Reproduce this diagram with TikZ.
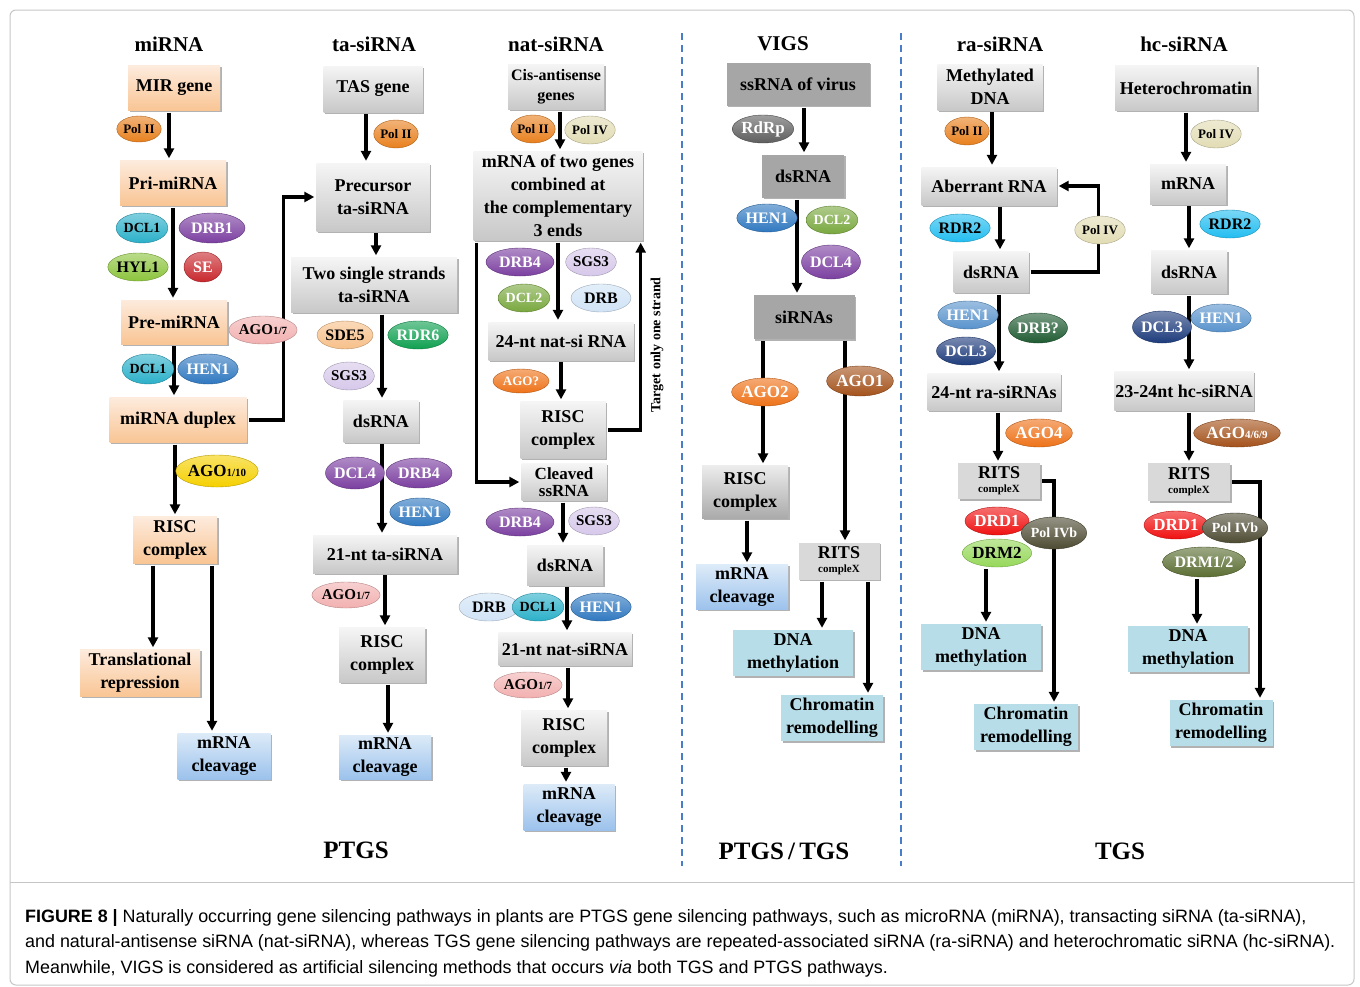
\documentclass[tikz,border=0pt]{standalone}
\usepackage{fontspec}
\setmainfont{Liberation Serif}
\newfontfamily\capfont{Liberation Sans}
\usetikzlibrary{shapes.geometric,arrows.meta,shadows}

\definecolor{peachtop}{HTML}{FDEBDD}
\definecolor{peachbot}{HTML}{F9C594}
\definecolor{greytop}{HTML}{F5F5F5}
\definecolor{greybot}{HTML}{C8C8C8}
\definecolor{bluetop}{HTML}{DDEBF8}
\definecolor{bluebot}{HTML}{9CC2EC}
\definecolor{cyanbox}{HTML}{B7DEE8}
\definecolor{virbox}{HTML}{A6A6A6}
\definecolor{ritsbox}{HTML}{D9D9D9}
\definecolor{dashblue}{HTML}{4A7CC8}
\definecolor{polor}{HTML}{E8801E}
\definecolor{dclcy}{HTML}{2BB0C9}
\definecolor{purp}{HTML}{7B3FA0}
\definecolor{hylg}{HTML}{8CC43C}
\definecolor{sered}{HTML}{C8282D}
\definecolor{agopk}{HTML}{F2B0B0}
\definecolor{henbl}{HTML}{2F78C0}
\definecolor{agoy}{HTML}{F5D000}
\definecolor{sdepk}{HTML}{F7C08A}
\definecolor{rdrg}{HTML}{0FA050}
\definecolor{sgsl}{HTML}{D6C8EA}
\definecolor{agoor}{HTML}{EE7218}
\definecolor{dclg}{HTML}{79A83E}
\definecolor{drbl}{HTML}{D0E3F6}
\definecolor{polfour}{HTML}{E2DCB4}
\definecolor{rdrpg}{HTML}{5E5E5E}
\definecolor{agobr}{HTML}{A4521B}
\definecolor{rdrcy}{HTML}{22BDF0}
\definecolor{drbdg}{HTML}{1F5B32}
\definecolor{navy}{HTML}{1E3C7C}
\definecolor{drdr}{HTML}{F01010}
\definecolor{drmg}{HTML}{96D85A}
\definecolor{polvb}{HTML}{4E4B33}
\definecolor{drmol}{HTML}{5B6E32}

\newcommand\stepdown[3]{\draw[arr] ([xshift=#3]#1.south) -- ([xshift=#3]#1.south |- #2.north);}
\newcommand\agosub[1]{{\fontsize{11}{11}\selectfont #1}}

\tikzset{
  box/.style={rectangle, inner sep=1pt, align=center, font=\fontsize{18}{23}\selectfont\bfseries,
    drop shadow={shadow xshift=1.5pt, shadow yshift=-1.5pt, opacity=0.3, fill=black}},
  orbox/.style={box, top color=peachtop, bottom color=peachbot},
  gbox/.style={box, top color=greytop, bottom color=greybot},
  vbox/.style={box, fill=virbox},
  rbox/.style={box, fill=ritsbox},
  bbox/.style={box, top color=bluetop, bottom color=bluebot},
  cbox/.style={box, fill=cyanbox},
  sz/.style 2 args={minimum width=#1, minimum height=#2},
  enz/.style={ellipse, inner sep=0pt, top color=#1!60!white, bottom color=#1, draw=#1!75!black,
    font=\fontsize{16}{16}\selectfont\bfseries},
  lt/.style={text=white},
  sm/.style={font=\fontsize{13}{13}\selectfont\bfseries},
  arr/.style={line width=3.2pt, -{Triangle[length=10pt,width=10pt]}, shorten <=2pt, shorten >=2pt},
  head/.style={font=\fontsize{21}{21}\selectfont\bfseries},
  foot/.style={font=\fontsize{25}{25}\selectfont\bfseries},
  rits/.style={rbox, font=\fontsize{18}{14}\selectfont\bfseries},
}

\begin{document}
\begin{tikzpicture}[x=1pt, y=-1pt]
\useasboundingbox (0,0) rectangle (1360,986);
\draw[gray!45, line width=1pt, rounded corners=6pt] (10,10) rectangle (1354,985);
\draw[gray!45, line width=1pt] (10,882) -- (1354,882);
\draw[dashblue, line width=2.2pt, dash pattern=on 7pt off 5pt] (682,33) -- (682,866);
\draw[dashblue, line width=2.2pt, dash pattern=on 7pt off 5pt] (901,33) -- (901,866);

% headings
\node[head] (h1) at (169,44) {miRNA};
\node[head] (h2) at (374,44) {ta-siRNA};
\node[head] (h3) at (556,44) {nat-siRNA};
\node[head] (h4) at (783,44) {VIGS};
\node[head] (h5) at (1000,44) {ra-siRNA};
\node[head] (h6) at (1184,44) {hc-siRNA};
\node[foot] (ptgs) at (356,850) {PTGS};
\node[foot] (both) at (784,851) {PTGS\,/\,TGS};
\node[foot] (tgs) at (1120,851) {TGS};

% miRNA
\node[orbox, sz={92}{45}] (mir) at (174,88) {MIR gene};
\node[orbox, sz={106}{45}] (pri) at (173,183) {Pri-miRNA};
\node[orbox, sz={106}{44}] (pre) at (174,322) {Pre-miRNA};
\node[orbox, sz={137}{45}] (dup) at (178,420) {miRNA duplex};
\node[orbox, sz={84}{47}] (risc1) at (175,540) {RISC\\complex};
\node[orbox, sz={120}{47}] (trans) at (140,673) {Translational\\repression};
\node[bbox, sz={93}{46}] (cleav1) at (224,756) {mRNA\\cleavage};

% ta-siRNA
\node[gbox, sz={99}{46}] (tas) at (373,89) {TAS gene};
\node[gbox, sz={113}{68}] (prec) at (373,197) {Precursor\\ta-siRNA};
\node[gbox, sz={166}{55}] (two) at (374,285) {Two single strands\\ta-siRNA};
\node[gbox, sz={75}{42}] (ds1) at (381,421) {dsRNA};
\node[gbox, sz={144}{38}] (nt21a) at (385,554) {21-nt ta-siRNA};
\node[gbox, sz={86}{55}] (risc2) at (382,655) {RISC\\complex};
\node[bbox, sz={92}{44}] (cleav2) at (385,757) {mRNA\\cleavage};

% nat-siRNA
\node[gbox, sz={96}{45}, font=\fontsize{16}{20}\selectfont\bfseries] (cis) at (556,87) {Cis-antisense\\genes};
\node[gbox, sz={169}{89}] (mg) at (558,196) {mRNA of two genes\\combined at\\the complementary\\3 ends};
\node[gbox, sz={145}{38}] (nat24) at (561,341) {24-nt nat-si RNA};
\node[gbox, sz={85}{57}] (risc3) at (563,430) {RISC\\complex};
\node[gbox, sz={85}{37}, font=\fontsize{17}{17}\selectfont\bfseries] (cl) at (564,482) {Cleaved\\ssRNA};
\node[gbox, sz={76}{40}] (ds2) at (565,565) {dsRNA};
\node[gbox, sz={133}{33}] (nt21b) at (565,649) {21-nt nat-siRNA};
\node[gbox, sz={86}{55}] (risc5) at (564,738) {RISC\\complex};
\node[bbox, sz={91}{46}] (cleav3) at (569,807) {mRNA\\cleavage};
\node[rotate=90, font=\fontsize{14}{14}\selectfont\bfseries] (tlab) at (657,345) {Target only one strand};

% VIGS
\node[vbox, sz={143}{43}] (ssv) at (798,84) {ssRNA of virus};
\node[vbox, sz={82}{43}] (ds3) at (803,176) {dsRNA};
\node[vbox, sz={101}{44}] (sir) at (804,317) {siRNAs};
\node[box, sz={86}{53}, top color=greytop!80!greybot, bottom color=greybot!85!black] (risc4) at (745,492) {RISC\\complex};
\node[bbox, sz={92}{45}] (cleav4) at (742,587) {mRNA\\cleavage};
\node[rits, sz={81}{37}] (rits1) at (839,561) {RITS\\{\fontsize{11}{11}\selectfont compleX}};
\node[cbox, sz={120}{46}] (dnam1) at (793,653) {DNA\\methylation};
\node[cbox, sz={102}{46}] (chr1) at (832,718) {Chromatin\\remodelling};

% ra-siRNA
\node[gbox, sz={105}{46}] (md) at (990,87) {Methylated\\DNA};
\node[gbox, sz={135}{38}] (ab) at (989,186) {Aberrant RNA};
\node[gbox, sz={75}{41}] (ds4) at (991,272) {dsRNA};
\node[gbox, sz={133}{37}] (ra24) at (994,392) {24-nt ra-siRNAs};
\node[rits, sz={82}{36}] (rits2) at (999,481) {RITS\\{\fontsize{11}{11}\selectfont compleX}};
\node[cbox, sz={120}{46}] (dnam2) at (981,647) {DNA\\methylation};
\node[cbox, sz={104}{46}] (chr2) at (1026,727) {Chromatin\\remodelling};

% hc-siRNA
\node[gbox, sz={142}{45}] (het) at (1186,88) {Heterochromatin};
\node[gbox, sz={76}{40}] (mr) at (1188,184) {mRNA};
\node[gbox, sz={76}{43}] (ds5) at (1189,272) {dsRNA};
\node[gbox, sz={139}{39}] (hc23) at (1184,391) {23-24nt hc-siRNA};
\node[rits, sz={82}{38}] (rits3) at (1189,482) {RITS\\{\fontsize{11}{11}\selectfont compleX}};
\node[cbox, sz={120}{46}] (dnam3) at (1188,649) {DNA\\methylation};
\node[cbox, sz={103}{46}] (chr3) at (1221,723) {Chromatin\\remodelling};

% connectors
\stepdown{mir}{pri}{-5pt}
\stepdown{pri}{pre}{0pt}
\stepdown{pre}{dup}{0pt}
\stepdown{dup}{risc1}{-3pt}
\stepdown{risc1}{trans}{-22pt}
\stepdown{risc1}{cleav1}{37pt}
\draw[arr] (dup.east) -- ++(37,0) |- (prec.west);
\stepdown{tas}{prec}{-7pt}
\stepdown{prec}{two}{3pt}
\stepdown{two}{ds1}{8pt}
\stepdown{ds1}{nt21a}{1pt}
\stepdown{nt21a}{risc2}{0pt}
\stepdown{risc2}{cleav2}{6pt}
\stepdown{cis}{mg}{4pt}
\stepdown{mg}{nat24}{0pt}
\stepdown{nat24}{risc3}{0pt}
\stepdown{cl}{ds2}{-1pt}
\stepdown{ds2}{nt21b}{2pt}
\stepdown{nt21b}{risc5}{3pt}
\stepdown{risc5}{cleav3}{2pt}
\draw[arr] ([xshift=3pt]mg.south west) |- (cl.west);
\draw[arr] (risc3.east) -| ([xshift=-2pt]mg.south east);
\stepdown{ssv}{ds3}{6pt}
\stepdown{ds3}{sir}{-6pt}
\stepdown{sir}{risc4}{-41pt}
\stepdown{sir}{rits1}{41pt}
\stepdown{risc4}{cleav4}{2pt}
\stepdown{rits1}{dnam1}{-17pt}
\stepdown{rits1}{chr1}{29pt}
\stepdown{md}{ab}{2pt}
\stepdown{ab}{ds4}{11pt}
\stepdown{ds4}{ra24}{8pt}
\stepdown{ra24}{rits2}{4pt}
\draw[arr] (ds4.east) -- ++(70,0) |- (ab.east);
\draw[arr] (rits2.east) -| ([xshift=28pt]chr2.north);
\stepdown{het}{mr}{0pt}
\stepdown{mr}{ds5}{1pt}
\stepdown{ds5}{hc23}{0pt}
\stepdown{hc23}{rits3}{5pt}
\draw[arr] (rits3.east) -| ([xshift=39pt]chr3.north);

% enzymes
\node[enz=polor, sm, sz={38}{26}] (pol1) at (139,129) {Pol II};
\node[enz=dclcy, sz={38}{30}, font=\fontsize{14}{14}\selectfont\bfseries] (dcl1a) at (142,228) {DCL1};
\node[enz=purp, lt, sz={66}{30}] (drb1) at (212,228) {DRB1};
\node[enz=hylg, sz={52}{28}] (hyl1) at (138,267) {HYL1};
\node[enz=sered, lt, sz={38}{30}] (se) at (203,267) {SE};
\node[enz=agopk, sz={58}{28}, font=\fontsize{15}{15}\selectfont\bfseries] (ago17a) at (263,330) {AGO\agosub{1/7}};
\node[enz=dclcy, sz={38}{30}, font=\fontsize{14}{14}\selectfont\bfseries] (dcl1b) at (148,369) {DCL1};
\node[enz=henbl, lt, sz={55}{30}] (hen1a) at (208,369) {HEN1};
\node[enz=agoy, sz={74}{32}, font=\fontsize{17}{17}\selectfont\bfseries] (ago110) at (217,471) {AGO\agosub{1/10}};

\node[enz=polor, sm, sz={38}{28}] (pol2) at (396,134) {Pol II};
\node[enz=sdepk, sz={56}{28}] (sde5) at (345,335) {SDE5};
\node[enz=rdrg, lt, sz={58}{28}] (rdr6) at (418,335) {RDR6};
\node[enz=sgsl, sz={44}{28}, font=\fontsize{15}{15}\selectfont\bfseries] (sgs3a) at (349,376) {SGS3};
\node[enz=purp, lt, sz={44}{32}] (dcl4a) at (355,473) {DCL4};
\node[enz=purp, lt, sz={66}{30}] (drb4a) at (419,473) {DRB4};
\node[enz=henbl, lt, sz={52}{28}] (hen1b) at (420,512) {HEN1};
\node[enz=agopk, sz={58}{26}, font=\fontsize{15}{15}\selectfont\bfseries] (ago17b) at (346,595) {AGO\agosub{1/7}};

\node[enz=polor, sm, sz={36}{28}] (pol3) at (533,129) {Pol II};
\node[enz=polfour, sm, sz={42}{28}] (pol4a) at (590,130) {Pol IV};
\node[enz=purp, lt, sz={68}{28}] (drb4b) at (520,262) {DRB4};
\node[enz=sgsl, sz={44}{28}, font=\fontsize{15}{15}\selectfont\bfseries] (sgs3b) at (591,262) {SGS3};
\node[enz=dclg, lt, sz={46}{28}, font=\fontsize{14}{14}\selectfont\bfseries] (dcl2a) at (524,298) {DCL2};
\node[enz=drbl, sz={60}{28}] (drba) at (601,298) {DRB};
\node[enz=agoor, lt, sz={56}{24}, sm] (agoq) at (521,381) {AGO?};
\node[enz=purp, lt, sz={68}{28}] (drb4c) at (520,522) {DRB4};
\node[enz=sgsl, sz={42}{28}, font=\fontsize{15}{15}\selectfont\bfseries] (sgs3c) at (594,521) {SGS3};
\node[enz=drbl, sz={60}{28}] (drbb) at (489,607) {DRB};
\node[enz=dclcy, sz={38}{28}, font=\fontsize{14}{14}\selectfont\bfseries] (dcl1c) at (538,607) {DCL1};
\node[enz=henbl, lt, sz={54}{28}] (hen1c) at (601,607) {HEN1};
\node[enz=agopk, sz={58}{26}, font=\fontsize{15}{15}\selectfont\bfseries] (ago17c) at (528,685) {AGO\agosub{1/7}};

\node[enz=rdrpg, lt, sz={58}{28}, font=\fontsize{17}{17}\selectfont\bfseries] (rdrp) at (763,129) {RdRp};
\node[enz=henbl, lt, sz={52}{28}] (hen1d) at (767,218) {HEN1};
\node[enz=dclg, lt, sz={42}{28}, font=\fontsize{14}{14}\selectfont\bfseries] (dcl2b) at (832,220) {DCL2};
\node[enz=purp, lt, sz={42}{34}] (dcl4b) at (831,262) {DCL4};
\node[enz=agoor, lt, sz={60}{28}, font=\fontsize{17}{17}\selectfont\bfseries] (ago2) at (765,392) {AGO2};
\node[enz=agobr, lt, sz={60}{30}, font=\fontsize{17}{17}\selectfont\bfseries] (ago1) at (860,381) {AGO1};

\node[enz=polor, sm, sz={38}{28}] (pol5) at (967,131) {Pol II};
\node[enz=polfour, sm, sz={44}{28}] (pol4b) at (1100,230) {Pol IV};
\node[enz=rdrcy, sz={58}{28}] (rdr2a) at (960,228) {RDR2};
\node[enz=henbl!80!white, lt, sz={50}{28}] (hen1e) at (968,315) {HEN1};
\node[enz=drbdg, lt, sz={58}{30}] (drbq) at (1038,328) {DRB?};
\node[enz=navy, lt, sz={44}{28}] (dcl3a) at (966,351) {DCL3};
\node[enz=agoor, lt, sz={58}{28}, font=\fontsize{17}{17}\selectfont\bfseries] (ago4) at (1039,433) {AGO4};
\node[enz=drdr, lt, sz={60}{28}, font=\fontsize{17}{17}\selectfont\bfseries] (drd1a) at (997,521) {DRD1};
\node[enz=drmg, sz={58}{28}, font=\fontsize{17}{17}\selectfont\bfseries] (drm2) at (997,553) {DRM2};
\node[enz=polvb, lt, sz={52}{32}, font=\fontsize{14}{14}\selectfont\bfseries] (pol4c) at (1054,533) {Pol IVb};

\node[enz=polfour, sm, sz={44}{28}] (pol4d) at (1216,134) {Pol IV};
\node[enz=rdrcy, sz={60}{28}] (rdr2b) at (1230,224) {RDR2};
\node[enz=navy, lt, sz={44}{32}] (dcl3b) at (1162,327) {DCL3};
\node[enz=henbl!80!white, lt, sz={52}{28}] (hen1f) at (1221,318) {HEN1};
\node[enz=agobr, lt, sz={74}{28}, font=\fontsize{17}{17}\selectfont\bfseries] (ago469) at (1237,433) {AGO\agosub{4/6/9}};
\node[enz=drdr, lt, sz={60}{28}, font=\fontsize{17}{17}\selectfont\bfseries] (drd1b) at (1176,525) {DRD1};
\node[enz=polvb, lt, sz={52}{30}, font=\fontsize{14}{14}\selectfont\bfseries] (pol4e) at (1235,528) {Pol IVb};
\node[enz=drmol, lt, sz={74}{30}] (drm12) at (1204,562) {DRM1/2};

\stepdown{drm2}{dnam2}{-11pt}
\stepdown{drm12}{dnam3}{-7pt}

% caption
\node[anchor=north west, inner sep=0pt, align=left, font=\capfont\fontsize{17.9}{25.5}\selectfont] (cap) at (25,909)
  {{\bfseries FIGURE 8 |} Naturally occurring gene silencing pathways in plants are PTGS gene silencing pathways, such as microRNA (miRNA), transacting siRNA (ta-siRNA),\\
   and natural-antisense siRNA (nat-siRNA), whereas TGS gene silencing pathways are repeated-associated siRNA (ra-siRNA) and heterochromatic siRNA (hc-siRNA).\\
   Meanwhile, VIGS is considered as artificial silencing methods that occurs \textit{via} both TGS and PTGS pathways.};
\end{tikzpicture}
\end{document}
